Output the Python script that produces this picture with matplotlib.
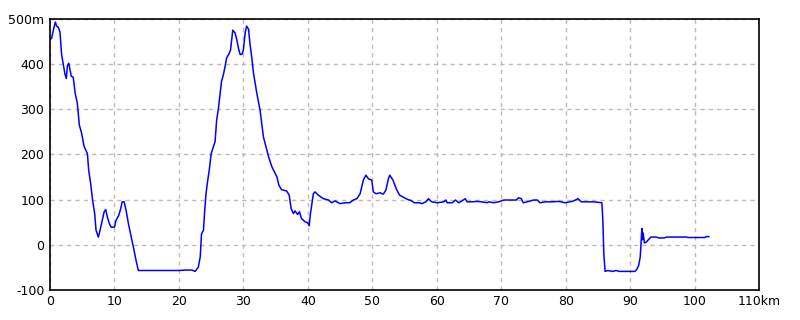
import matplotlib
matplotlib.use('Agg')
import matplotlib.pyplot as plt

# distance (km) and elevation (m)
dist = [0, 0.25, 0.6, 0.83, 1.03, 1.3, 1.55, 1.8, 2.07, 2.33, 2.53, 2.7, 2.9, 3.1, 3.3, 3.6,
        3.9, 4.24, 4.55, 4.9, 5.28, 5.5, 5.8, 6.0, 6.3, 6.6, 6.93, 7.14, 7.5, 7.76, 8.0,
        8.4, 8.64, 8.9, 9.2, 9.47, 10.0, 10.24, 10.66, 10.97, 11.2, 11.5, 11.8, 12.16,
        12.67, 12.93, 13.35, 13.7, 20.0, 21.2, 22.0, 22.5, 23.0, 23.3, 23.5, 23.8, 24.0,
        24.2, 24.4, 24.7, 25.0, 25.35, 25.6, 25.85, 26.1, 26.4, 26.6, 26.9, 27.16, 27.4,
        27.7, 28.0, 28.35, 28.7, 28.97, 29.28, 29.5, 29.8, 30.0, 30.27, 30.5, 30.8, 31.0,
        31.3, 31.56, 32.07, 32.58, 33.1, 33.9, 34.4, 35.2, 35.5, 35.9, 36.7, 37.1, 37.4,
        37.75, 38.0, 38.4, 38.7, 39.0, 39.56, 40.0, 40.2, 40.4, 40.85, 41.1, 41.6, 42.4,
        43.2, 43.7, 44.2, 45.0, 45.8, 46.5, 47.05, 47.6, 48.1, 48.6, 49.0, 49.4, 49.9,
        50.15, 50.57, 51.2, 51.7, 52.1, 52.5, 52.7, 53.2, 53.7, 54.2, 54.7, 55.5, 56.0,
        56.5, 57.3, 57.7, 58.3, 58.7, 59.2, 60.1, 61.1, 61.4, 61.6, 62.4, 62.9, 63.4,
        63.9, 64.4, 64.7, 65.5, 66.2, 67.0, 67.8, 68.1, 68.8, 69.6, 70.4, 71.2, 72.3,
        72.7, 73.1, 73.4, 74.3, 75.0, 75.6, 76.0, 76.8, 77.9, 78.9, 79.9, 81.0, 81.5,
        81.9, 82.4, 84.3, 85.6, 85.75, 85.9, 86.1, 86.5, 87.3, 87.8, 88.3, 90.7, 91.0,
        91.3, 91.55, 91.7, 91.8, 91.9, 92.0, 92.2, 92.5, 92.75, 93.2, 94.0, 94.45, 95.3,
        95.6, 98.7, 98.96, 101.55, 101.8, 102.2]
elev = [455, 457, 480, 493, 484, 481, 471, 421, 399, 377, 368, 396, 402, 387, 373, 371,
        336, 313, 265, 247, 218, 211, 202, 165, 136, 99, 69, 32, 17, 32, 47,
        73, 78, 61, 47, 39, 39, 54, 65, 80, 95, 95, 76, 47,
        13, -5, -35, -57, -57, -56, -56, -59, -50, -27, 24, 32, 76,
        113, 136, 165, 202, 217, 228, 276, 299, 336, 361, 377, 395, 414,
        421, 431, 475, 469, 454, 432, 421, 422, 432, 469, 484, 477, 447,
        414, 380, 336, 298, 239, 195, 173, 150, 132, 122, 119, 110, 80,
        69, 75, 67, 73, 58, 51, 48, 42, 69, 113, 117, 110, 102,
        99, 93, 97, 91, 93, 93, 99, 102, 113, 143, 154, 146, 143,
        117, 113, 115, 112, 121, 147, 154, 143, 124, 110, 106, 100, 98,
        93, 93, 91, 95, 102, 95, 93, 95, 99, 93, 93, 99, 93,
        97, 102, 95, 95, 96, 95, 93, 95, 93, 95, 99, 99, 99,
        104, 102, 93, 96, 99, 99, 93, 95, 95, 96, 93, 96, 99,
        102, 95, 95, 93, 54, -20, -59, -57, -59, -57, -59, -59, -55,
        -46, -27, 10, 36, 11, 26, 4, 6, 10, 17, 17, 15, 15,
        17, 17, 16, 16, 18, 18]

x_ticks = list(range(0, 111, 10))
x_labels = [str(v) for v in x_ticks[:-1]] + ['110km']
y_ticks = list(range(-100, 501, 100))
y_labels = [str(v) for v in y_ticks[:-1]] + ['500m']

fig = plt.figure(figsize=(8, 3.2), dpi=100)
ax = fig.add_axes([0.0625, 0.094, 0.8865, 0.847])

ax.plot(dist, elev, color='#0000ff', linewidth=1.1)

ax.set_xlim(0, 110)
ax.set_ylim(-100, 500)
ax.set_xticks(x_ticks)
ax.set_xticklabels(x_labels)
ax.set_yticks(y_ticks)
ax.set_yticklabels(y_labels)
ax.tick_params(length=0, labelsize=9, pad=4)
ax.grid(True, color='#bbbbbb', linestyle=(0, (3, 3)), linewidth=1)
for s in ax.spines.values():
    s.set_color('black')
    s.set_linewidth(1.2)

fig.savefig('out.png', dpi=100, facecolor='white')
